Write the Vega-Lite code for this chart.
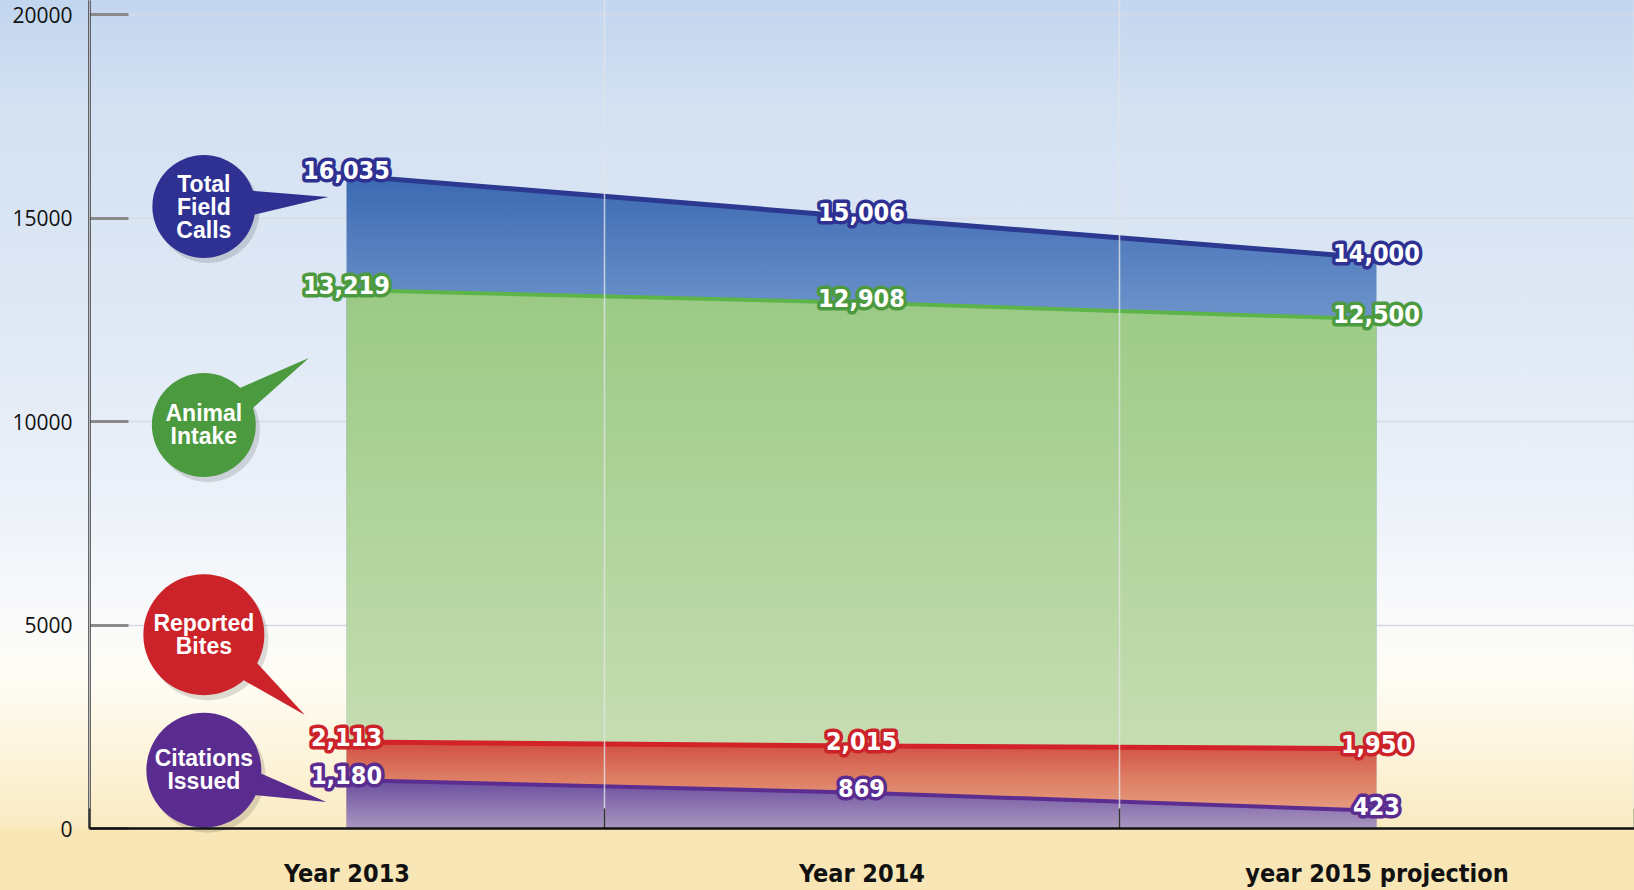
{
  "$schema": "https://vega.github.io/schema/vega-lite/v6.json",
  "width": 1634,
  "height": 828,
  "autosize": {"type": "none"},
  "padding": {"left": 0, "top": 0, "right": 0, "bottom": 62},
  "background": "#f8e6b6",
  "config": {
    "view": {"stroke": null}
  },
  "view": {
    "stroke": null,
    "fill": {
      "gradient": "linear", "x1": 0, "y1": 0, "x2": 0, "y2": 1,
      "stops": [
        {"offset": 0, "color": "#c3d6ef"},
        {"offset": 0.13, "color": "#d3e1f2"},
        {"offset": 0.38, "color": "#dfe8f5"},
        {"offset": 0.59, "color": "#ebf1f9"},
        {"offset": 0.73, "color": "#f8f9fb"},
        {"offset": 0.82, "color": "#fefcf4"},
        {"offset": 0.93, "color": "#fcf2d6"},
        {"offset": 1, "color": "#f9eac1"}
      ]
    }
  },
  "datasets": {
    "callouts": [
      {"series": "Total Field Calls", "year": "Year 2013", "at": 15270},
      {"series": "Animal Intake", "year": "Year 2013", "at": 9900},
      {"series": "Reported Bites", "year": "Year 2013", "at": 4750},
      {"series": "Citations Issued", "year": "Year 2013", "at": 1420}
    ]
  },
  "data": {
    "values": [
      {"series": "Total Field Calls", "year": "Year 2013", "value": 16035},
      {"series": "Total Field Calls", "year": "Year 2014", "value": 15006},
      {"series": "Total Field Calls", "year": "year 2015 projection", "value": 14000},
      {"series": "Animal Intake", "year": "Year 2013", "value": 13219},
      {"series": "Animal Intake", "year": "Year 2014", "value": 12908},
      {"series": "Animal Intake", "year": "year 2015 projection", "value": 12500},
      {"series": "Reported Bites", "year": "Year 2013", "value": 2113},
      {"series": "Reported Bites", "year": "Year 2014", "value": 2015},
      {"series": "Reported Bites", "year": "year 2015 projection", "value": 1950},
      {"series": "Citations Issued", "year": "Year 2013", "value": 1180},
      {"series": "Citations Issued", "year": "Year 2014", "value": 869},
      {"series": "Citations Issued", "year": "year 2015 projection", "value": 423}
    ]
  },
  "encoding": {
    "x": {
      "field": "year", "type": "ordinal", "bandPosition": 0.5,
      "scale": {"type": "band", "domain": ["Year 2013", "Year 2014", "year 2015 projection"], "range": [89, 1634], "paddingInner": 0, "paddingOuter": 0},
      "axis": {
        "orient": "bottom", "title": null, "labelAngle": 0, "labelLimit": 400,
        "tickBand": "extent", "tickSize": -20, "tickColor": "#333333", "tickWidth": 1.5,
        "domainColor": "#111111", "domainWidth": 2.5,
        "labelFont": "DejaVu Sans Condensed", "labelFontWeight": "bold", "labelFontSize": 25, "labelColor": "#111111", "labelPadding": 53,
        "grid": true, "gridColor": "#e2e4e8", "gridWidth": 1.5, "gridOpacity": 0.8,
        "zindex": 1
      }
    },
    "y": {
      "field": "value", "type": "quantitative",
      "scale": {"domain": [0, 20344], "nice": false, "zero": true},
      "axis": {
        "orient": "left", "offset": -89, "title": null, "values": [0, 5000, 10000, 15000, 20000], "format": "d",
        "tickSize": -39, "tickColor": "#8a8a8a", "tickWidth": 3,
        "domainColor": "#111111", "domainWidth": 2.5,
        "labelFont": "Open Sans", "labelFontSize": 21, "labelColor": "#111111", "labelPadding": 56, "labelOffset": 2,
        "grid": true, "gridColor": "#d6dbe3", "gridWidth": 1.5,
        "zindex": 0
      }
    }
  },
  "layer": [
    {
      "transform": [{"filter": "datum.series === 'Total Field Calls'"}],
      "mark": {"type": "area", "opacity": 1, "line": {"color": "#2b3990", "strokeWidth": 5},
        "fill": {"gradient": "linear", "x1": 0, "y1": 0, "x2": 0, "y2": 1,
          "stops": [{"offset": 0, "color": "#3b68b1"}, {"offset": 0.2, "color": "#6990c9"}, {"offset": 1, "color": "#b8cde8"}]}}
    },
    {
      "transform": [{"filter": "datum.series === 'Animal Intake'"}],
      "mark": {"type": "area", "opacity": 1, "line": {"color": "#5db54a", "strokeWidth": 4},
        "fill": {"gradient": "linear", "x1": 0, "y1": 0, "x2": 0, "y2": 1,
          "stops": [{"offset": 0, "color": "#9bca85"}, {"offset": 0.85, "color": "#c6ddb2"}, {"offset": 1, "color": "#cfe3bd"}]}}
    },
    {
      "transform": [{"filter": "datum.series === 'Reported Bites'"}],
      "mark": {"type": "area", "opacity": 1, "line": {"color": "#d2232a", "strokeWidth": 5},
        "fill": {"gradient": "linear", "x1": 0, "y1": 0, "x2": 0, "y2": 1,
          "stops": [{"offset": 0, "color": "#d14f43"}, {"offset": 0.45, "color": "#de8066"}, {"offset": 1, "color": "#e9ad90"}]}}
    },
    {
      "transform": [{"filter": "datum.series === 'Citations Issued'"}],
      "mark": {"type": "area", "opacity": 1, "line": {"color": "#5c2d91", "strokeWidth": 4},
        "fill": {"gradient": "linear", "x1": 0, "y1": 0, "x2": 0, "y2": 1,
          "stops": [{"offset": 0, "color": "#6a4d9f"}, {"offset": 1, "color": "#a996bf"}]}}
    },
    {
      "mark": {"type": "text", "font": "DejaVu Sans Condensed", "fontWeight": "bold", "fontSize": 25, "align": "center", "baseline": "middle", "dy": -4, "strokeWidth": 7, "strokeJoin": "round"},
      "encoding": {
        "text": {"field": "value", "type": "quantitative", "format": ","},
        "color": {"field": "series", "type": "nominal", "scale": {"domain": ["Total Field Calls", "Animal Intake", "Reported Bites", "Citations Issued"], "range": ["#2e3192", "#4c9a3f", "#cc2229", "#5b2c8f"]}, "legend": null},
        "stroke": {"field": "series", "type": "nominal", "scale": {"domain": ["Total Field Calls", "Animal Intake", "Reported Bites", "Citations Issued"], "range": ["#2e3192", "#4c9a3f", "#cc2229", "#5b2c8f"]}, "legend": null}
      }
    },
    {
      "mark": {"type": "text", "font": "DejaVu Sans Condensed", "fontWeight": "bold", "fontSize": 25, "align": "center", "baseline": "middle", "dy": -4, "fill": "#ffffff"},
      "encoding": {
        "text": {"field": "value", "type": "quantitative", "format": ","}
      }
    },
    {
      "data": {"name": "callouts"},
      "mark": {"type": "point", "shape": "circle", "filled": true, "fill": "#000000", "opacity": 0.13, "xOffset": 4, "yOffset": 5},
      "encoding": {
        "x": {"field": "year", "type": "ordinal", "bandPosition": 0.223},
        "y": {"field": "at", "type": "quantitative"},
        "size": {"field": "series", "type": "nominal", "scale": {"type": "ordinal", "domain": ["Total Field Calls", "Animal Intake", "Reported Bites", "Citations Issued"], "range": [10609, 10816, 14641, 13225]}, "legend": null}
      }
    },
    {
      "data": {"name": "callouts"},
      "mark": {"type": "point", "filled": true, "opacity": 1, "size": 67600},
      "encoding": {
        "x": {"field": "year", "type": "ordinal", "bandPosition": 0.223},
        "y": {"field": "at", "type": "quantitative"},
        "color": {"field": "series", "type": "nominal", "legend": null},
        "shape": {"field": "series", "type": "nominal", "legend": null, "scale": {"domain": ["Total Field Calls", "Animal Intake", "Reported Bites", "Citations Issued"], "range": ["M-0.012,-0.153L0.958,-0.073L0.012,0.153Z", "M-0.083,-0.130L0.808,-0.515L0.083,0.130Z", "M0.096,-0.121L0.777,0.618L-0.096,0.121Z", "M0.039,-0.149L0.942,0.245L-0.039,0.149Z"]}}
      }
    },
    {
      "data": {"name": "callouts"},
      "mark": {"type": "point", "shape": "circle", "filled": true, "opacity": 1},
      "encoding": {
        "x": {"field": "year", "type": "ordinal", "bandPosition": 0.223},
        "y": {"field": "at", "type": "quantitative"},
        "color": {"field": "series", "type": "nominal", "legend": null},
        "size": {"field": "series", "type": "nominal", "scale": {"type": "ordinal", "domain": ["Total Field Calls", "Animal Intake", "Reported Bites", "Citations Issued"], "range": [10609, 10816, 14641, 13225]}, "legend": null}
      }
    },
    {
      "data": {"name": "callouts"},
      "transform": [{"filter": "datum.series === 'Total Field Calls'"}],
      "mark": {"type": "text", "font": "Liberation Sans", "fontWeight": "bold", "fontSize": 23, "lineHeight": 23, "lineBreak": " ", "align": "center", "baseline": "middle", "dy": -22, "fill": "#ffffff"},
      "encoding": {
        "x": {"field": "year", "type": "ordinal", "bandPosition": 0.223},
        "y": {"field": "at", "type": "quantitative"},
        "text": {"field": "series", "type": "nominal"}
      }
    },
    {
      "data": {"name": "callouts"},
      "transform": [{"filter": "datum.series !== 'Total Field Calls'"}],
      "mark": {"type": "text", "font": "Liberation Sans", "fontWeight": "bold", "fontSize": 23, "lineHeight": 23, "lineBreak": " ", "align": "center", "baseline": "middle", "dy": -11, "fill": "#ffffff"},
      "encoding": {
        "x": {"field": "year", "type": "ordinal", "bandPosition": 0.223},
        "y": {"field": "at", "type": "quantitative"},
        "text": {"field": "series", "type": "nominal"}
      }
    }
  ]
}
